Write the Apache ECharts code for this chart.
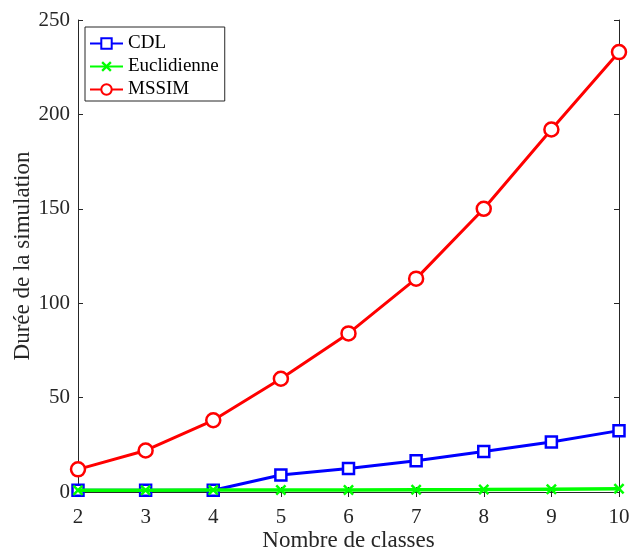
<!DOCTYPE html>
<html><head><meta charset="utf-8">
<script src="https://cdn.jsdelivr.net/npm/echarts@6/dist/echarts.min.js"></script>
<style>html,body{margin:0;padding:0;background:#fff}#c{width:631px;height:552px}</style>
</head><body><div id="c"></div>
<script>
const classes = [2, 3, 4, 5, 6, 7, 8, 9, 10];
const cdl = [0.9, 0.9, 0.9, 9, 12.5, 16.5, 21.5, 26.5, 32.5];
const euclid = [0.9, 0.9, 1.0, 1.0, 1.1, 1.2, 1.3, 1.5, 1.7];
const mssim = [12, 22, 38, 60, 84, 113, 150, 192, 233];
const seriesNames = ['CDL', 'Euclidienne', 'MSSIM'];
const yTicks = [0, 50, 100, 150, 200, 250];

const font = 'Liberation Serif';
const ink = '#262626';
const pairs = v => classes.map((x, i) => [x, v[i]]);
const xPath = 'path://M0,1.6L1.6,0L5,3.4L8.4,0L10,1.6L6.6,5L10,8.4L8.4,10L5,6.6L1.6,10L0,8.4L3.4,5Z';

const chart = echarts.init(document.getElementById('c'));
const axisCommon = {
  axisLine: {show: true, lineStyle: {color: ink, width: 1}},
  axisTick: {show: true, inside: true, length: 5, lineStyle: {color: ink}},
  splitLine: {show: false}
};
chart.setOption({
  animation: false,
  textStyle: {fontFamily: font},
  grid: {left: 78, right: 12, top: 20, bottom: 60, containLabel: false, outerBoundsMode: 'none'},
  legend: {
    left: 85, top: 27, orient: 'vertical',
    data: seriesNames,
    backgroundColor: '#fff', borderColor: ink, borderWidth: 1,
    padding: [7, 6, 2, 4], itemGap: 4, itemWidth: 33, itemHeight: 13,
    textStyle: {fontFamily: font, fontSize: 19, color: '#000'}
  },
  xAxis: [
    Object.assign({type: 'value', min: 2, max: 10, interval: 1, position: 'bottom',
      name: 'Nombre de classes', nameLocation: 'middle', nameGap: 37, nameMoveOverlap: false,
      nameTextStyle: {fontFamily: font, fontSize: 23, color: ink},
      axisLabel: {fontFamily: font, fontSize: 21, color: ink, margin: 15}}, axisCommon),
    Object.assign({type: 'value', min: 2, max: 10, interval: 1, position: 'top',
      axisLabel: {show: false}}, axisCommon)
  ],
  yAxis: [
    Object.assign({type: 'value', min: 0, max: 250, interval: 50, position: 'left',
      name: 'Durée de la simulation', nameLocation: 'middle', nameGap: 44, nameMoveOverlap: false,
      nameTextStyle: {fontFamily: font, fontSize: 23, color: ink},
      axisLabel: {fontFamily: font, fontSize: 21, color: ink, margin: 8,
        formatter: v => yTicks.includes(v) ? String(v) : ''}}, axisCommon),
    Object.assign({type: 'value', min: 0, max: 250, interval: 50, position: 'right',
      axisLabel: {show: false}}, axisCommon)
  ],
  series: [
    {name: seriesNames[0], type: 'line', data: pairs(cdl), symbol: 'rect', symbolSize: 11,
      lineStyle: {color: '#0000ff', width: 3},
      itemStyle: {color: '#fff', borderColor: '#0000ff', borderWidth: 2.5}, z: 3},
    {name: seriesNames[1], type: 'line', data: pairs(euclid), symbol: xPath, symbolSize: 11,
      lineStyle: {color: '#00ff00', width: 3.5},
      itemStyle: {color: '#00ff00', borderColor: '#00ff00', borderWidth: 0}, z: 4},
    {name: seriesNames[2], type: 'line', data: pairs(mssim), symbol: 'circle', symbolSize: 14,
      lineStyle: {color: '#ff0000', width: 3},
      itemStyle: {color: '#fff', borderColor: '#ff0000', borderWidth: 2.5}, z: 5}
  ]
});
</script></body></html>
